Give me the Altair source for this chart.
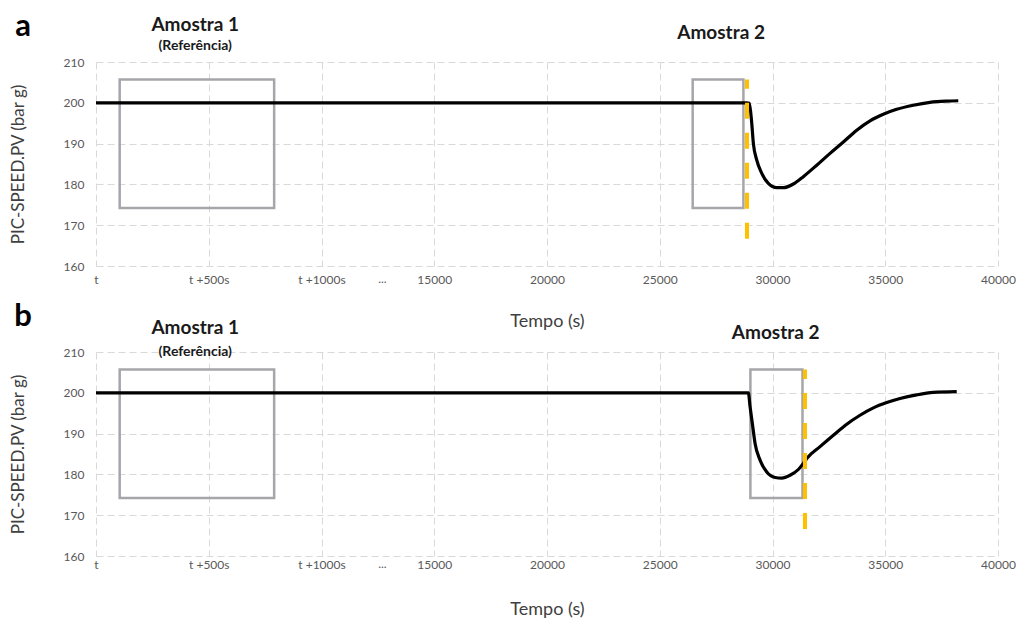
import altair as alt
import pandas as pd

PW, PH = 902, 204
FONT = "Lato"

# ---- axis ticks ----
x_ticks = [0, 5000, 10000, 15000, 20000, 25000, 30000, 35000, 40000]
x_tick_labels = ["t", "t +500s", "t +1000s", "15000", "20000", "25000", "30000", "35000", "40000"]
ellipsis_x = [12700]
y_ticks = [160, 170, 180, 190, 200, 210]

# ---- panel a series ----
a_x = [0, 28700, 28859, 28974, 29080, 29151, 29302, 29524, 29816, 30189, 30481, 30925,
       31368, 31962, 32552, 33142, 33735, 34325, 34914, 35508, 36244, 36984, 37725, 38239]
a_y = [200, 200, 200, 199.9, 194.95, 190.05, 185.96, 182.7, 180.25, 179.2, 179.2, 180.1,
       181.9, 184.7, 187.6, 190.4, 193.3, 195.6, 197.2, 198.4, 199.4, 200.1, 200.4, 200.5]

# ---- panel b series ----
b_x = [0, 28780, 28930, 29005, 29125, 29227, 29449, 29746, 30114, 30411, 30778, 31146,
       31368, 31519, 32108, 32698, 33292, 33882, 34472, 35066, 35655, 36395, 37131, 38169]
b_y = [200, 200, 200, 196.6, 191.7, 187.6, 183.5, 180.6, 179.25, 179.1, 179.8, 181.2,
       182.7, 183.9, 186.8, 189.6, 192.3, 194.5, 196.3, 197.6, 198.6, 199.5, 200.1, 200.3]

# ---- sample windows ----
box_y = [174.2, 205.7]
a_box1_x = [1050, 7900]
a_box2_x = [26460, 28710]
b_box1_x = [1050, 7900]
b_box2_x = [29020, 31330]

# ---- cut markers (x, y_low, y_high) ----
a_marker = [28870, 166.7, 205.7]
b_marker = [31440, 166.6, 205.7]

# ---- annotations ----
a_big = {"x": [4400, 27720], "y": [219.0, 217.0], "t": ["Amostra 1", "Amostra 2"]}
a_small = {"x": [4400], "y": [213.9], "t": ["(Referência)"]}
b_big = {"x": [4400, 30140], "y": [215.9, 214.7], "t": ["Amostra 1", "Amostra 2"]}
b_small = {"x": [4400], "y": [210.0], "t": ["(Referência)"]}

label_expr = " : ".join(
    f"datum.value == {v} ? '{l}'" for v, l in zip(x_ticks, x_tick_labels)
) + " : datum.label"

xscale = alt.Scale(domain=[0, 40000], nice=False, zero=False)
yscale = alt.Scale(domain=[160, 210], nice=False, zero=False)


def panel(xs, ys, box1, box2, marker, big, small, letter, lab_pad, tit_pad, first):
    line_df = pd.DataFrame({"x": xs, "y": ys})
    boxes = pd.DataFrame({"x0": [box1[0], box2[0]], "x1": [box1[1], box2[1]],
                          "y0": [box_y[0]] * 2, "y1": [box_y[1]] * 2})
    mk = pd.DataFrame({"x": [marker[0]], "y0": [marker[1]], "y1": [marker[2]]})

    xaxis = alt.Axis(values=x_ticks, labelExpr=label_expr, title="Tempo (s)",
                     grid=True, domain=False, ticks=False, labelFlush=False,
                     labelPadding=lab_pad, titlePadding=tit_pad, format="d",
                     titleFontSize=18)
    yaxis = alt.Axis(values=y_ticks, title="PIC-SPEED.PV (bar g)", grid=True,
                     domain=False, ticks=False, labelPadding=12, titlePadding=36,
                     titleFontSize=17)

    base_line = alt.Chart(line_df).mark_line(
        color="black", strokeWidth=3.2, interpolate="monotone"
    ).encode(x=alt.X("x:Q", scale=xscale, axis=xaxis),
             y=alt.Y("y:Q", scale=yscale, axis=yaxis))

    rects = alt.Chart(boxes).mark_rect(
        fillOpacity=0, stroke="#A6A6AA", strokeWidth=2.5
    ).encode(x="x0:Q", x2="x1:Q", y="y0:Q", y2="y1:Q")

    rule = alt.Chart(mk).mark_rule(
        color="#FFC000", strokeWidth=4, strokeDash=[16, 14]
    ).encode(x="x:Q", y="y0:Q", y2="y1:Q")

    t_big = alt.Chart(pd.DataFrame(big)).mark_text(
        font=FONT, fontSize=19, fontWeight="bold", color="#1a1a1a", baseline="middle"
    ).encode(x="x:Q", y="y:Q", text="t:N")
    t_small = alt.Chart(pd.DataFrame(small)).mark_text(
        font=FONT, fontSize=14, fontWeight="bold", color="#1a1a1a", baseline="middle"
    ).encode(x="x:Q", y="y:Q", text="t:N")

    dots = alt.Chart(pd.DataFrame({"x": ellipsis_x, "t": ["..."]})).mark_text(
        font=FONT, fontSize=12, color="#595959", baseline="top"
    ).encode(x="x:Q", y=alt.value(PH + lab_pad), text="t:N")

    let = alt.Chart(pd.DataFrame({"t": [letter]})).mark_text(
        font=FONT, fontSize=31, fontWeight="bold", color="black", baseline="alphabetic"
    ).encode(x=alt.value(-73), y=alt.value(-26), text="t:N")

    layers = [rects, base_line, rule, t_big, t_small, dots, let]
    if first:
        anchor = alt.Chart(pd.DataFrame({"t": [0]})).mark_rule(
            opacity=0, strokeWidth=0.1
        ).encode(x=alt.value(-96), x2=alt.value(-95), y=alt.value(-62), y2=alt.value(-61))
        layers.append(anchor)
    return alt.layer(*layers).properties(width=PW, height=PH)


pa = panel(a_x, a_y, a_box1_x, a_box2_x, a_marker, a_big, a_small, "a", 8, 27, True)
pb = panel(b_x, b_y, b_box1_x, b_box2_x, b_marker, b_big, b_small, "b", 3, 30, False)

chart = alt.vconcat(pa, pb, spacing=86, bounds="flush").properties(
    padding=0
).configure_view(stroke=None).configure_axis(
    labelFont=FONT, titleFont=FONT, labelFontSize=12, labelColor="#595959",
    titleColor="#404040", titleFontWeight="normal",
    gridColor="#D9D9D9", gridDash=[7, 4], gridWidth=1
)

chart.save("out.html", embed_options={"renderer": "svg", "actions": False})
